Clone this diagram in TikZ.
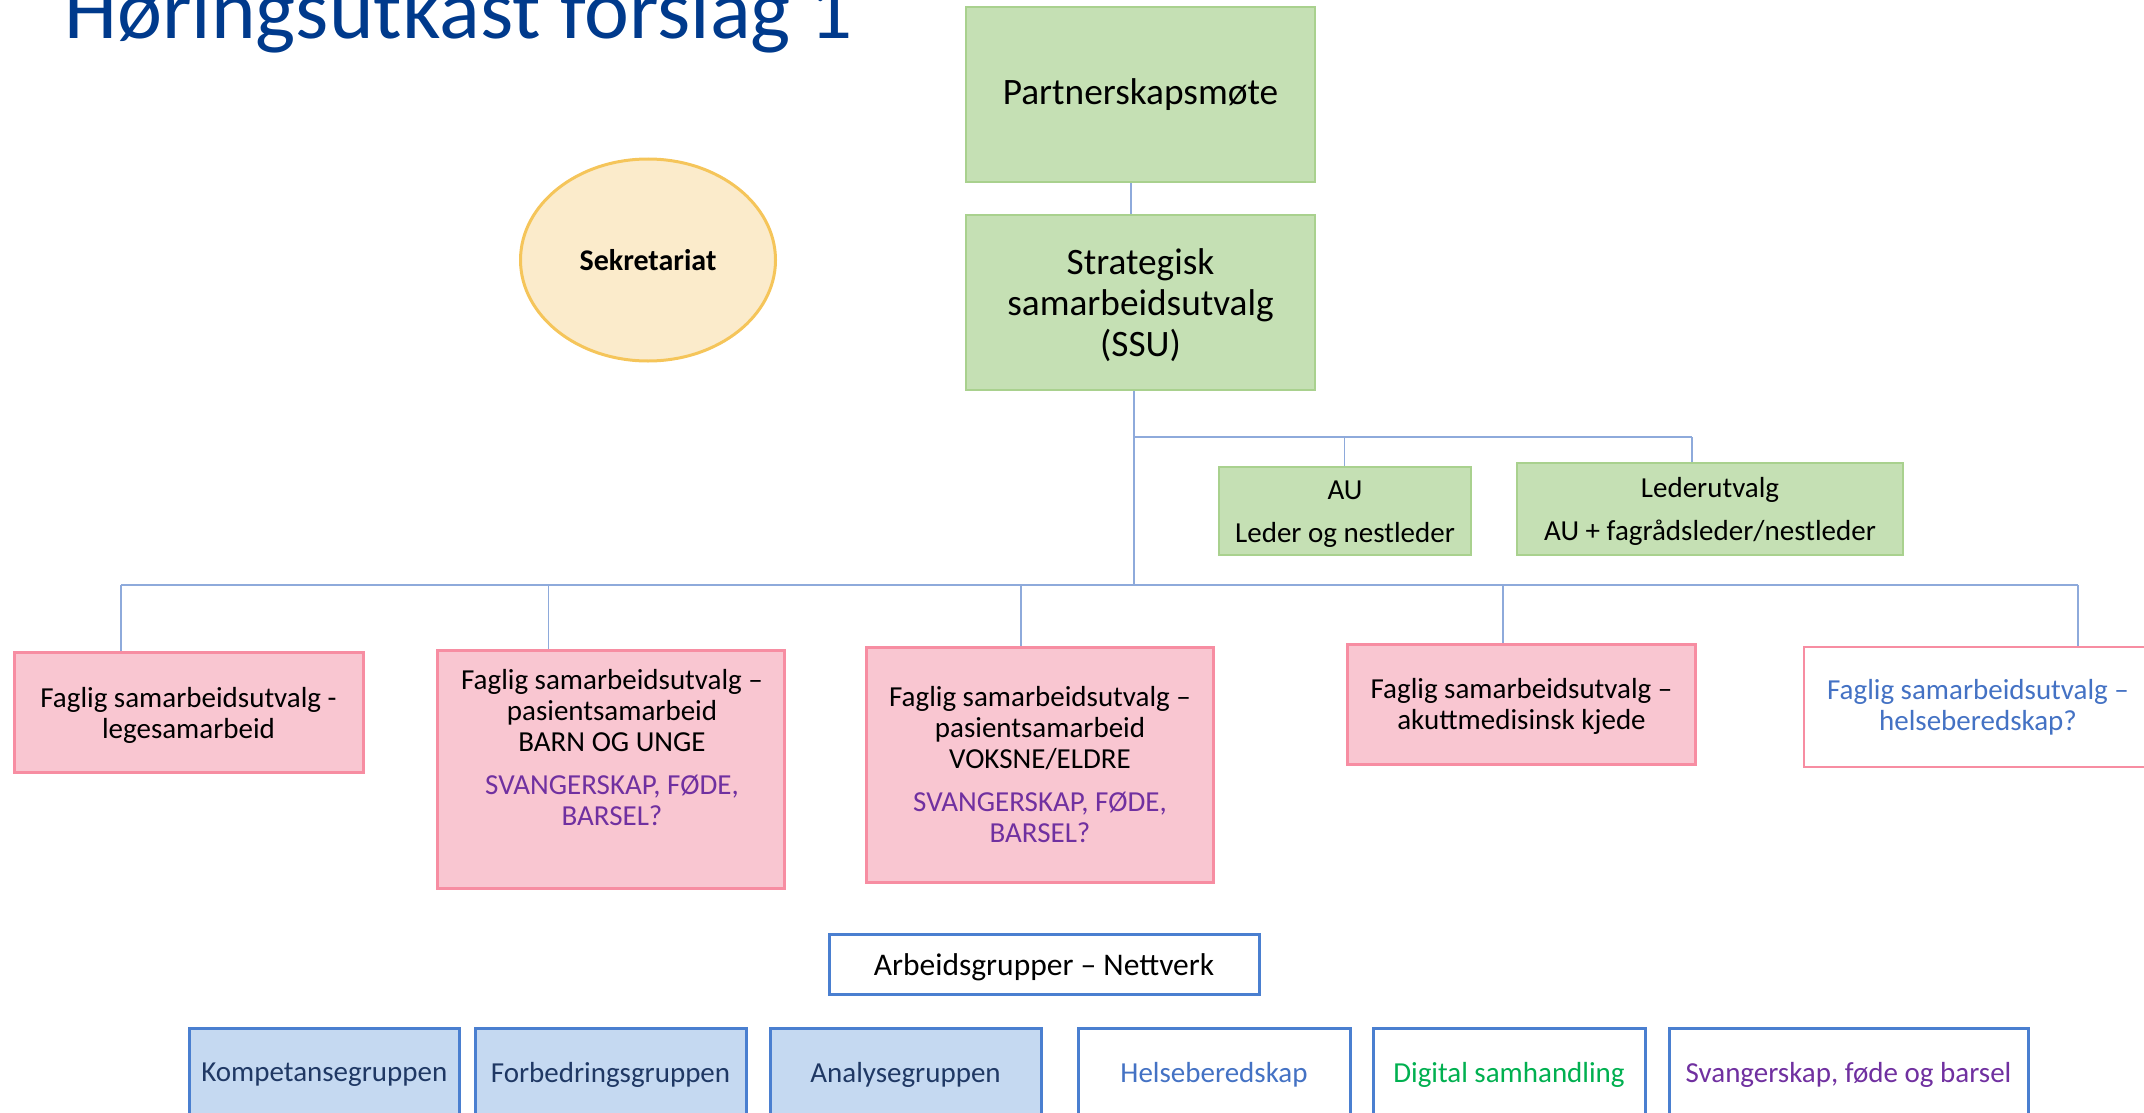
\documentclass[tikz,border=0pt]{standalone}
\usepackage{fontspec}
\setmainfont{Carlito}
\usetikzlibrary{shapes.geometric}

\definecolor{titleblue}{HTML}{003A8C}
\definecolor{grfill}{HTML}{C5E0B4}
\definecolor{grline}{HTML}{A9D18E}
\definecolor{pkfill}{HTML}{F9C6D1}
\definecolor{pkline}{HTML}{F78DA2}
\definecolor{ylfill}{HTML}{FBEBCB}
\definecolor{ylline}{HTML}{F5C55A}
\definecolor{blfill}{HTML}{C5D9F1}
\definecolor{blline}{HTML}{4A7FD0}
\definecolor{wire}{HTML}{8EAADB}
\definecolor{navytext}{HTML}{1F3864}
\definecolor{helseblue}{HTML}{4472C4}
\definecolor{digigreen}{HTML}{00B050}
\definecolor{purpletext}{HTML}{7030A0}

\newcommand\lgfont{\fontsize{37.3}{41}\selectfont}
\newcommand\smfont{\fontsize{29}{31}\selectfont}
\newcommand\hdfont{\fontsize{85}{90}\selectfont}

\tikzset{
  greenbox/.style={draw=grline, fill=grfill, line width=2.5pt, inner sep=0pt, align=center},
  pinkbox/.style={draw=pkline, fill=pkfill, line width=3pt, inner sep=0pt, align=center, font=\smfont},
  pinkopen/.style={draw=pkline, fill=white, line width=2.5pt, inner sep=0pt, align=center, font=\smfont, text=helseblue},
  groupbox/.style={draw=blline, fill=blfill, line width=3pt, inner sep=0pt, minimum height=94, font=\smfont, text=navytext},
  netbox/.style={draw=blline, fill=white, line width=3pt, inner sep=0pt, minimum height=94, font=\smfont},
  boxtext/.style={inner sep=0pt, align=center, font=\smfont},
  wireline/.style={draw=wire, line width=1.6pt}
}

\begin{document}
\begin{tikzpicture}[x=1pt, y=-1pt]
\useasboundingbox (0,0) rectangle (2144,1113);

% heading
\node[anchor=base west, inner sep=0pt, text=titleblue, font=\hdfont] (title) at (64,38.5) {Høringsutkast forslag 1};

% top level
\node[greenbox, minimum width=349, minimum height=175, font=\lgfont] (pm) at (1140.5,94.5) {Partnerskapsmøte};
\node[greenbox, minimum width=349, minimum height=175] (ssu) at (1140.5,302.5) {};
\node[boxtext, font=\lgfont] (ssut) at (1140.5,305.5) {Strategisk\\samarbeidsutvalg\\(SSU)};

% secretariat
\node[ellipse, draw=ylline, fill=ylfill, line width=3pt, minimum width=255, minimum height=202, inner sep=0pt, font=\fontsize{30}{32}\selectfont\bfseries] (sek) at (648,260) {Sekretariat};

% committees under SSU
\node[greenbox, minimum width=252, minimum height=88] (au) at (1345,511) {};
\node[boxtext] (aut) at (1345,514) {AU\\[12pt]Leder og nestleder};
\node[greenbox, minimum width=386, minimum height=92] (led) at (1710,509) {};
\node[boxtext] (ledt) at (1710,511) {Lederutvalg\\[12pt]AU + fagrådsleder/nestleder};

% professional cooperation committees
\node[pinkbox, minimum width=349, minimum height=120] (f1) at (188.5,712) {};
\node[boxtext] (f1t) at (188.5,715) {Faglig samarbeidsutvalg -\\legesamarbeid};
\node[pinkbox, minimum width=347.5, minimum height=238] (f2) at (611,769) {};
\node[boxtext] (f2t) at (612,748) {Faglig samarbeidsutvalg –\\pasientsamarbeid\\BARN OG UNGE\\[12pt]\textcolor{purpletext}{SVANGERSKAP, FØDE,}\\\textcolor{purpletext}{BARSEL?}};
\node[pinkbox, minimum width=347.5, minimum height=235] (f3) at (1040,764.5) {Faglig samarbeidsutvalg –\\pasientsamarbeid\\VOKSNE/ELDRE\\[12pt]\textcolor{purpletext}{SVANGERSKAP, FØDE,}\\\textcolor{purpletext}{BARSEL?}};
\node[pinkbox, minimum width=348, minimum height=120] (f4) at (1521.5,704) {};
\node[boxtext] (f4t) at (1521.5,706) {Faglig samarbeidsutvalg –\\akuttmedisinsk kjede};
\node[pinkopen, minimum width=348, minimum height=120] (f5) at (1978,707) {Faglig samarbeidsutvalg –\\helseberedskap?};

% working groups
\node[draw=blline, fill=white, line width=3pt, inner sep=0pt, minimum width=430, minimum height=60] (arb) at (1044,964) {};
\node[boxtext, font=\fontsize{31.5}{33}\selectfont] (arbt) at (1044,967) {Arbeidsgrupper – Nettverk};
\node[groupbox, minimum width=269.4] (g1) at (324.3,1075) {Kompetansegruppen};
\node[groupbox, minimum width=271] (g2) at (610.5,1075) {Forbedringsgruppen};
\node[groupbox, minimum width=271] (g3) at (905.5,1075) {Analysegruppen};
\node[netbox, minimum width=272, text=helseblue] (g4) at (1214,1075) {Helseberedskap};
\node[netbox, minimum width=272, text=digigreen] (g5) at (1509,1075) {Digital samhandling};
\node[netbox, minimum width=359, text=purpletext] (g6) at (1848.5,1075) {Svangerskap, føde og barsel};

% junction points of the tree
\coordinate (jp) at (1131,182);
\coordinate (ja) at (1134,437);
\coordinate (jau) at (1344.5,437);
\coordinate (jled) at (1692,437);
\coordinate (jb) at (1134,585);
\coordinate (k1) at (121,585);
\coordinate (k2) at (548.5,585);
\coordinate (k3) at (1021,585);
\coordinate (k4) at (1503,585);
\coordinate (k5) at (2078,585);

% connectors
\draw[wireline] (jp |- pm.south) -- (jp |- ssu.north);
\draw[wireline] (jb |- ssu.south) -- (jb);
\draw[wireline] (ja) -- (jled);
\draw[wireline] (jau) -- (jau |- au.north);
\draw[wireline] (jled) -- (jled |- led.north);
\draw[wireline] (k1) -- (k5);
\draw[wireline] (k1) -- (k1 |- f1.north);
\draw[wireline] (k2) -- (k2 |- f2.north);
\draw[wireline] (k3) -- (k3 |- f3.north);
\draw[wireline] (k4) -- (k4 |- f4.north);
\draw[wireline] (k5) -- (k5 |- f5.north);
\end{tikzpicture}
\end{document}
